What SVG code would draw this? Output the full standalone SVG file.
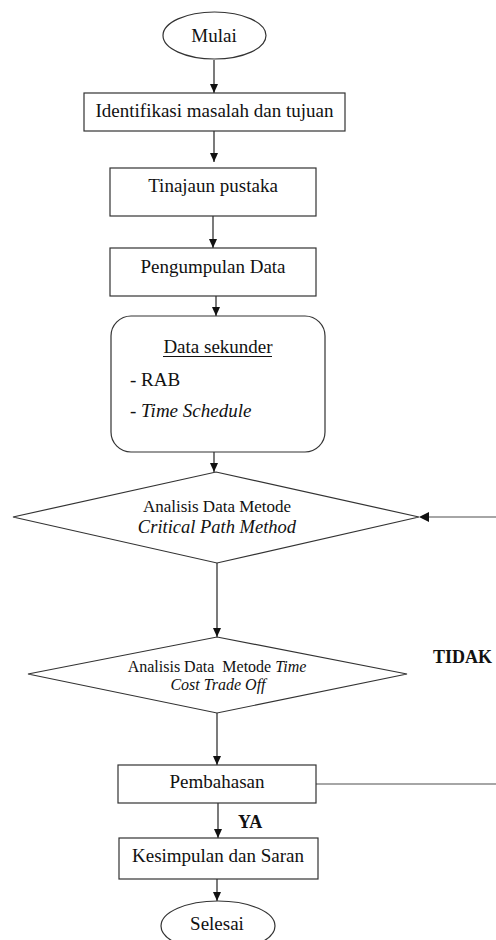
<svg xmlns="http://www.w3.org/2000/svg" width="496" height="940" viewBox="0 0 496 940">
<style>
.shape{fill:#fff;stroke:#333;stroke-width:1.2}
.t{font-family:"Liberation Serif","Times New Roman",serif;font-size:19px;fill:#111;text-anchor:middle}
.it{font-style:italic}
.b{font-weight:bold;font-size:18px;text-anchor:start}
.c{stroke:#222;stroke-width:1.2;fill:none;marker-end:url(#ah)}
.g{stroke:#888;stroke-width:1.3;fill:none}
</style>
<defs>
<marker id="ah" markerUnits="userSpaceOnUse" markerWidth="10" markerHeight="10" refX="9" refY="5" orient="auto">
<path d="M0,1 L9,5 L0,9 Z" fill="#111"/>
</marker>
</defs>
<rect width="496" height="940" fill="#fff"/>
<g id="connectors">
<line class="c" x1="214" y1="60" x2="214" y2="93"/>
<line class="c" x1="214" y1="131" x2="214" y2="162"/>
<line class="c" x1="213" y1="216" x2="213" y2="248"/>
<line class="c" x1="216" y1="296" x2="216" y2="316"/>
<line class="c" x1="214" y1="452" x2="214" y2="472"/>
<line class="c" x1="217" y1="563" x2="217" y2="637"/>
<line class="c" x1="217" y1="713" x2="217" y2="765"/>
<line class="c" x1="218" y1="803" x2="218" y2="838"/>
<line class="c" x1="217" y1="879" x2="217" y2="901"/>
<line class="g" x1="316" y1="784" x2="496" y2="784"/>
<line class="g" x1="496" y1="517" x2="428" y2="517"/>
<path d="M419,517 L429,512 L429,522 Z" fill="#111"/>
<text class="t b" x="433" y="663">TIDAK</text>
<text class="t b" x="238" y="828">YA</text>
</g>
<g id="mulai">
<ellipse class="shape" cx="214.5" cy="35.5" rx="51.5" ry="23.5"/>
<text class="t" x="214" y="42">Mulai</text>
</g>
<g id="identifikasi">
<rect class="shape" x="84" y="93" width="261" height="38"/>
<text class="t" x="214.5" y="117">Identifikasi masalah dan tujuan</text>
</g>
<g id="tinjauan">
<rect class="shape" x="110" y="168" width="206" height="48"/>
<text class="t" x="213" y="192">Tinajaun pustaka</text>
</g>
<g id="pengumpulan">
<rect class="shape" x="110" y="248" width="206" height="48"/>
<text class="t" x="213" y="273">Pengumpulan Data</text>
</g>
<g id="data-sekunder">
<rect class="shape" x="111" y="316" width="214" height="136" rx="20" ry="20"/>
<text class="t" x="218" y="353">Data sekunder</text>
<line x1="163" y1="356.5" x2="272" y2="356.5" stroke="#111" stroke-width="1"/>
<text class="t" x="130" y="386" text-anchor="start" style="text-anchor:start">- RAB</text>
<text class="t" x="130" y="417" style="text-anchor:start">- <tspan class="it">Time Schedule</tspan></text>
</g>
<g id="cpm">
<polygon class="shape" points="216,472 419,517 217,563 13,517"/>
<text class="t" x="217" y="512" style="font-size:17px">Analisis Data Metode</text>
<text class="t it" x="217" y="533" style="font-size:18.5px">Critical Path Method</text>
</g>
<g id="tcto">
<polygon class="shape" points="217,637 407,674 217,713 28,674"/>
<text class="t" x="217" y="672" style="font-size:16px" xml:space="preserve">Analisis Data  Metode <tspan class="it">Time</tspan></text>
<text class="t it" x="218" y="690" style="font-size:16px">Cost Trade Off</text>
</g>
<g id="pembahasan">
<rect class="shape" x="118" y="765" width="198" height="38"/>
<text class="t" x="217" y="788">Pembahasan</text>
</g>
<g id="kesimpulan">
<rect class="shape" x="119" y="838" width="199" height="41"/>
<text class="t" x="218" y="862">Kesimpulan dan Saran</text>
</g>
<g id="selesai">
<ellipse class="shape" cx="218" cy="926" rx="57" ry="25"/>
<text class="t" x="217" y="930">Selesai</text>
</g>
</svg>
